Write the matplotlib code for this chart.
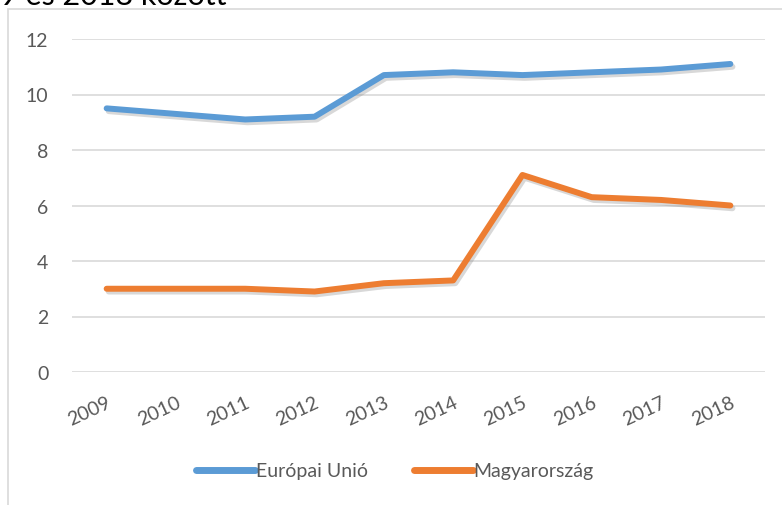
import matplotlib.pyplot as plt
import matplotlib.patheffects as pe
from matplotlib.patches import Rectangle
import numpy as np

years = ['2009', '2010', '2011', '2012', '2013', '2014', '2015', '2016', '2017', '2018']
eu = [9.5, 9.3, 9.1, 9.2, 10.7, 10.8, 10.7, 10.8, 10.9, 11.1]
hu = [3.0, 3.0, 3.0, 2.9, 3.2, 3.3, 7.1, 6.3, 6.2, 6.0]
series_names = ['Európai Unió', 'Magyarország']
colors = ['#5B9BD5', '#ED7D31']

plt.rcParams['font.family'] = ['Lato', 'DejaVu Sans']
txt = '#595959'

W, H = 782, 506
fig = plt.figure(figsize=(W / 100, H / 100), dpi=100)
ax = fig.add_axes([72 / W, 1 - 373 / H, (765 - 72) / W, (373 - 40) / H])

# keret a diagram körül
fig.patches.append(Rectangle((8 / W, -0.05), 1.2, 1 - 10 / H + 0.05,
                             transform=fig.transFigure, fill=False,
                             edgecolor='#d9d9d9', linewidth=1.2))

x = np.arange(len(years))
shadow = [pe.SimpleLineShadow(offset=(1.5, -2), shadow_color='gray', alpha=0.3), pe.Normal()]
for vals, name, c in zip([eu, hu], series_names, colors):
    ax.plot(x, vals, color=c, linewidth=4.3, label=name,
            solid_capstyle='round', solid_joinstyle='round', path_effects=shadow)

ax.set_xlim(-0.5, len(years) - 0.5)
ax.set_ylim(0, 12)
ax.set_yticks(np.arange(0, 13, 2))
ax.grid(axis='y', color='#d9d9d9', linewidth=1.2)
ax.set_axisbelow(True)
for s in ax.spines.values():
    s.set_visible(False)
ax.tick_params(length=0, colors=txt, labelsize=14)
ax.tick_params(axis='y', pad=17)
ax.set_xticks(x)
ax.set_xticklabels(years, rotation=25, ha='right', rotation_mode='anchor')
ax.tick_params(axis='x', pad=15)

leg = fig.legend(loc='center', bbox_to_anchor=(0.505, 1 - 472 / H), ncol=2,
                 frameon=False, fontsize=14, handlelength=3.0, handletextpad=0.05,
                 columnspacing=2.4, labelcolor=txt)
for line in leg.get_lines():
    line.set_path_effects([])
    line.set_linewidth(5)

# a cím alja látszik csak a kép tetején
fig.text(0, 1 - 5 / H, '9 és 2018 között', fontsize=22, color='black',
         ha='left', va='baseline')

fig.savefig('out.png', dpi=100)
